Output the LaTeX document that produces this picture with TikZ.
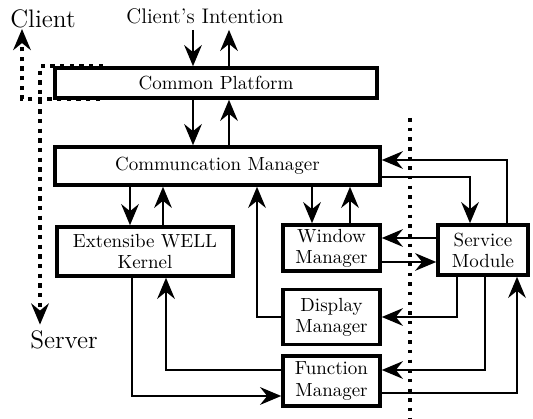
\documentclass[tikz,border=0pt]{standalone}
\usepackage{tikz}
\usetikzlibrary{arrows.meta,positioning}

\tikzset{
  box/.style={draw, line width=2pt, align=center, inner sep=1pt,
              font=\fontsize{10.8pt}{12pt}\selectfont},
  link/.style={line width=1.6pt, -{Stealth[length=12pt,width=10pt,inset=4pt]}},
  dotlink/.style={line width=2.2pt, dash pattern=on 2.5pt off 3pt,
                  -{Stealth[length=12pt,width=10pt,inset=4pt]}},
  sep/.style={line width=2.2pt, dash pattern=on 2pt off 3.5pt}
}

\begin{document}
\begin{tikzpicture}
    \useasboundingbox (0,0) rectangle (10.66,8.38);

    % labels outside the boxes
    \node[font=\large] (intent) at (4.10,8.06) {Client's Intention};
    \node[font=\Large] (client) at (0.86,8.00) {Client};
    \node[font=\Large] (server) at (1.28,1.58) {Server};

    % boxes
    \node[box, minimum width=6.44cm, minimum height=0.60cm] (plat) at (4.32,6.72) {Common Platform};
    \node[box, minimum width=6.50cm, minimum height=0.76cm] (comm) at (4.35,5.06) {Communcation Manager};
    \node[box, minimum width=3.52cm, minimum height=0.98cm] (kern) at (2.90,3.35) {Extensibe WELL\\ Kernel};
    \node[box, minimum width=1.94cm, minimum height=0.92cm] (win) at (6.63,3.42) {Window\\ Manager};
    \node[box, minimum width=1.80cm, minimum height=1.00cm] (svc) at (9.66,3.38) {Service\\ Module};
    \node[box, minimum width=1.94cm, minimum height=1.10cm] (disp) at (6.63,2.04) {Display\\ Manager};
    \node[box, minimum width=1.94cm, minimum height=1.00cm] (func) at (6.63,0.76) {Function\\ Manager};

    % client / server split
    \draw[sep] (8.20,6.02) -- (8.20,0);
    \coordinate (cltip) at (0.44,7.80);
    \draw[dotlink] (2.00,6.40) -| (cltip);
    \draw[dotlink] (2.06,7.06) -| (0.80,0 |- server.north);

    % vertical pairs
    \draw[link] (3.86,0 |- intent.south) -- (3.86,0 |- plat.north);
    \draw[link] (4.58,0 |- plat.north) -- (4.58,0 |- intent.south);
    \draw[link] (3.86,0 |- plat.south) -- (3.86,0 |- comm.north);
    \draw[link] (4.58,0 |- comm.north) -- (4.58,0 |- plat.south);
    \draw[link] (2.60,0 |- comm.south) -- (2.60,0 |- kern.north);
    \draw[link] (3.26,0 |- kern.north) -- (3.26,0 |- comm.south);
    \draw[link] (6.24,0 |- comm.south) -- (6.24,0 |- win.north);
    \draw[link] (7.00,0 |- win.north) -- (7.00,0 |- comm.south);

    % service module links
    \draw[link] (comm.east |- 0,4.84) -| ([xshift=-0.26cm]svc.north);
    \draw[link] ([xshift=0.48cm]svc.north) |- (comm.east |- 0,5.18);
    \draw[link] (svc.west |- 0,3.62) -- (win.east |- 0,3.62);
    \draw[link] (win.east |- 0,3.14) -- (svc.west |- 0,3.14);
    \draw[link] ([xshift=-0.52cm]svc.south) |- (disp.east);
    \draw[link] ([xshift=0.04cm]svc.south) |- (func.east |- 0,0.98);
    \draw[link] (func.east |- 0,0.52) -| ([xshift=0.68cm]svc.south);

    % display, kernel and function links
    \draw[link] (disp.west) -| (5.14,0 |- comm.south);
    \draw[link] (2.64,0 |- kern.south) |- (func.west |- 0,0.46);
    \draw[link] (func.west |- 0,0.98) -| (3.32,0 |- kern.south);
\end{tikzpicture}
\end{document}
